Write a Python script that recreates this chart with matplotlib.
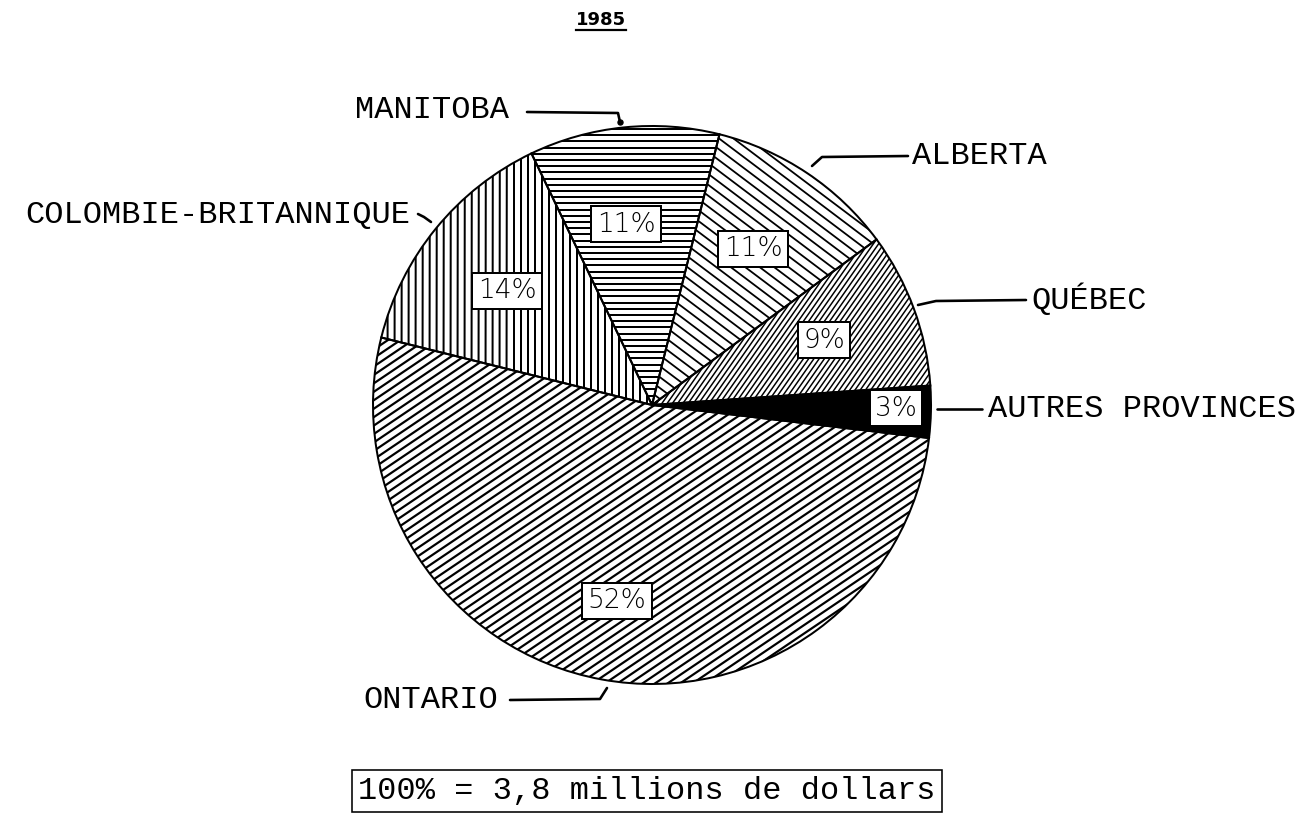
import numpy as np
import matplotlib
matplotlib.use("Agg")
import matplotlib.pyplot as plt
from matplotlib.collections import LineCollection

# data (share of 3,8 M$ in 1985)
provinces = ['AUTRES PROVINCES', 'QUÉBEC', 'ALBERTA', 'MANITOBA',
             'COLOMBIE-BRITANNIQUE', 'ONTARIO']
shares = [3, 9, 11, 11, 14, 52]
pct_labels = ['3%', '9%', '11%', '11%', '14%', '52%']

# layout in pixel coords (y grows downward)
W, H = 1309, 821
cx, cy, R = 652, 405, 279
pct_pos = [(896, 408), (824, 340), (753, 249), (626, 224), (507, 291), (617, 601)]
# hatch: (visual angle in deg, perpendicular spacing px, line width px)
hatches = [None, (55, 4.3, 1.5), (-37, 8.7, 1.8), (0, 6.2, 2.0),
           (90, 7.0, 2.0), (34, 7.0, 2.2)]
# outer labels: text anchor, alignment, leader path
outer = [
    ((988, 409), 'left', [(937, 409), (982, 409)]),
    ((1031, 300), 'left', [(1026, 300), (936, 301), (918, 305)]),
    ((912, 156), 'left', [(908, 156), (822, 157), (812, 166)]),
    ((355, 110), 'left', [(527, 112), (618, 113), (620, 122)]),
    ((410, 215), 'right', [(418, 214), (424, 217), (431, 222)]),
    ((363, 700), 'left', [(510, 700), (600, 699), (607, 688)]),
]

px = 72 / 100  # points per pixel at dpi 100

fig = plt.figure(figsize=(W / 100, H / 100), dpi=100)
ax = fig.add_axes([0, 0, 1, 1])

# y axis inverted -> clockwise in data is counterclockwise on screen
wedges, _ = ax.pie(shares, center=(cx, cy), radius=R, startangle=6.8,
                   counterclock=False, colors=['white'] * len(shares),
                   wedgeprops=dict(edgecolor='black', linewidth=2 * px))
ax.set_xlim(0, W)
ax.set_ylim(H, 0)
ax.set_aspect('equal')
ax.axis('off')

wedges[0].set_facecolor('black')

for w, h in zip(wedges, hatches):
    if h is None:
        continue
    ang, sp, lw = h
    a = np.deg2rad(ang)
    d = np.array([np.cos(a), -np.sin(a)])
    n = np.array([-d[1], d[0]])
    c = np.array([cx, cy])
    segs = []
    for k in np.arange(-1.5 * R, 1.5 * R, sp):
        p = c + n * k
        segs.append([p - d * 2 * R, p + d * 2 * R])
    lc = LineCollection(segs, colors='black', linewidths=lw * px, zorder=1.5)
    ax.add_collection(lc)
    lc.set_clip_path(w)
    w.set_zorder(2)
    w.set_facecolor('none')

# percentage boxes
for lab, (x, y) in zip(pct_labels, pct_pos):
    ax.text(x, y, lab, ha='center', va='center', fontsize=19,
            family='DejaVu Sans', fontweight='light', zorder=5,
            bbox=dict(boxstyle='square,pad=0.2', fc='white', ec='black',
                      lw=2 * px))

# outer labels with leader lines
for name, (pos, ha, path) in zip(provinces, outer):
    ax.text(pos[0], pos[1], name, ha=ha, va='center', fontsize=23,
            family='Liberation Mono', zorder=5)
    xs, ys = zip(*path)
    ax.plot(xs, ys, color='black', lw=2.6 * px, zorder=5,
            solid_capstyle='round')
ax.plot(620, 122, 'o', color='black', ms=5 * px, zorder=5)

# title
ax.text(601, 20, '1985', ha='center', va='center', fontsize=13,
        fontweight='bold', family='DejaVu Sans')
ax.plot([576, 626], [30, 30], color='black', lw=2.2 * px)

# total box
ax.text(647, 791, '100% = 3,8 millions de dollars', ha='center',
        va='center', fontsize=23, family='Liberation Mono',
        bbox=dict(boxstyle='square,pad=0.2', fc='white', ec='black',
                  lw=1.6 * px))

fig.savefig('out.png', dpi=100)
